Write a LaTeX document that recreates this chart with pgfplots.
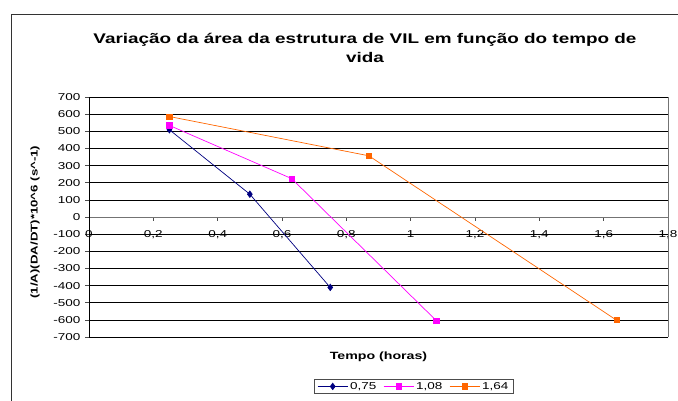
\documentclass[border=0pt]{standalone}
\usepackage{fontspec}
\setmainfont[FakeStretch=1.35]{Liberation Sans}
\usepackage{pgfplots}
\pgfplotsset{compat=1.18}
\definecolor{navyb}{RGB}{0,0,128}
\definecolor{magp}{RGB}{255,0,255}
\definecolor{orng}{RGB}{255,102,0}
\begin{document}
\begin{tikzpicture}
\useasboundingbox (0pt,0pt) rectangle (678pt,401pt);
\draw[line width=0.9pt, black!80] (11pt,-10pt) -- (11pt,387pt) -- (700pt,387pt);
\begin{axis}[
  at={(89pt,64pt)}, anchor=south west,
  scale only axis,
  width=579pt, height=240pt,
  xmin=0, xmax=1.8, ymin=-700, ymax=700,
  axis x line=middle, axis y line=left,
  hide obscured x ticks=false,
  axis line style={-, line width=0.6pt},
  x axis line style={black!55},
  tick align=outside,
  major tick length=4pt,
  tick style={black!70, line width=0.5pt},
  xtick={0,0.2,...,1.8},
  xticklabels={0,{0,2},{0,4},{0,6},{0,8},1,{1,2},{1,4},{1,6},{1,8}},
  xticklabel style={yshift=-6pt},
  ytick={-700,-600,...,700},
  yticklabel style={xshift=-1pt},
  ymajorgrids,
  grid style={black, line width=0.6pt},
  /pgf/number format/assume math mode=true,
  ticklabel style={font=\fontsize{10}{12}\selectfont},
  xlabel={\textbf{Tempo (horas)}},
  xlabel style={at={(axis description cs:0.5,-0.083)}, anchor=center, font=\fontsize{10.5}{12}\selectfont},
  ylabel={\textbf{(1/A)(DA/DT)*10\^{}6 (s\^{}-1)}},
  ylabel style={at={(axis description cs:-0.093,0.479)}, anchor=center, font=\fontsize{9.8}{11}\selectfont},
  legend columns=3,
  legend style={at={(axis description cs:0.561,-0.206)}, anchor=center,
    draw=black!70, line width=0.6pt, font=\fontsize{10}{12}\selectfont,
    inner ysep=1pt,
    /tikz/every even column/.append style={column sep=5pt}},
  legend image code/.code={\draw[#1] (0pt,0pt) -- (30pt,0pt); \draw[#1, only marks] plot coordinates {(15pt,0pt)};},
  clip=false,
]
\addplot[navyb, line width=0.7pt, mark=diamond*, mark size=3.2pt, mark options={fill=navyb, draw=navyb}]
  coordinates {(0.25,509) (0.5,133) (0.75,-411)};
\addlegendentry{0,75}
\addplot[magp, line width=0.7pt, mark=square*, mark size=2.6pt, mark options={fill=magp, draw=magp}]
  coordinates {(0.25,534) (0.63,224) (1.08,-605)};
\addlegendentry{1,08}
\addplot[orng, line width=0.7pt, mark=square*, mark size=2.6pt, mark options={fill=orng, draw=orng}]
  coordinates {(0.25,586) (0.87,357) (1.64,-602)};
\addlegendentry{1,64}
\draw[black!55, line width=0.7pt] (rel axis cs:1,0) -- (rel axis cs:1,1);
\end{axis}
\node[font=\fontsize{14}{16}\selectfont\bfseries] at (365pt,361pt) {Variação da área da estrutura de VIL em função do tempo de};
\node[font=\fontsize{14}{16}\selectfont\bfseries] at (365pt,343pt) {vida};
\end{tikzpicture}
\end{document}
